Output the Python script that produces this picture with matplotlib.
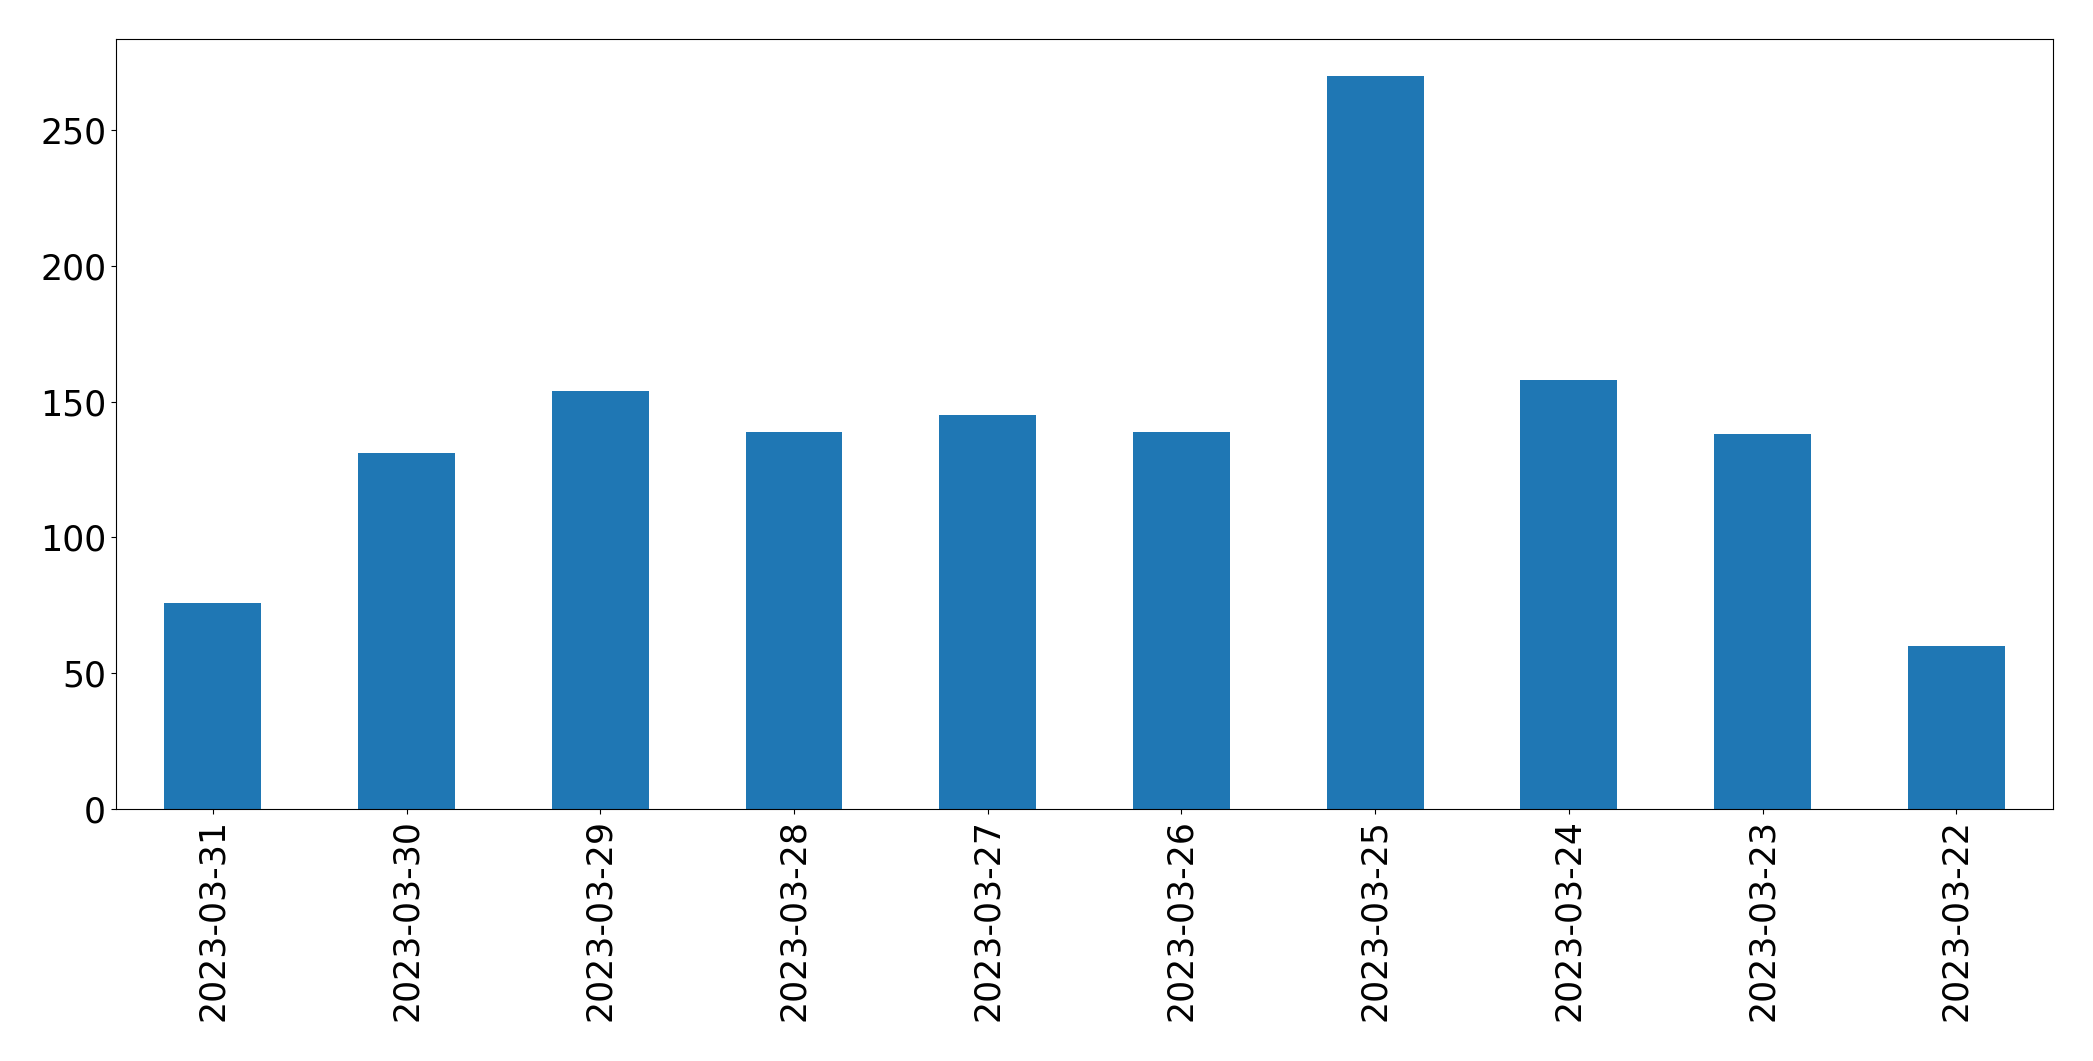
import matplotlib
matplotlib.use("Agg")
import matplotlib.pyplot as plt
import numpy as np

dates = ["2023-03-31", "2023-03-30", "2023-03-29", "2023-03-28", "2023-03-27",
         "2023-03-26", "2023-03-25", "2023-03-24", "2023-03-23", "2023-03-22"]
counts = [76, 131, 154, 139, 145, 139, 270, 158, 138, 60]

fig = plt.figure(figsize=(20.93, 10.61), dpi=100)
ax = fig.add_axes([0.0554, 0.2375, 0.9256, 0.7255])
x = np.arange(len(dates))
ax.bar(x, counts, width=0.5, color="#1f77b4")
ax.set_xlim(-0.5, len(dates) - 0.5)
ax.set_xticks(x)
ax.set_xticklabels(dates, rotation=90)
ax.tick_params(labelsize=25)
fig.savefig("out.png", dpi=100, facecolor="white")
